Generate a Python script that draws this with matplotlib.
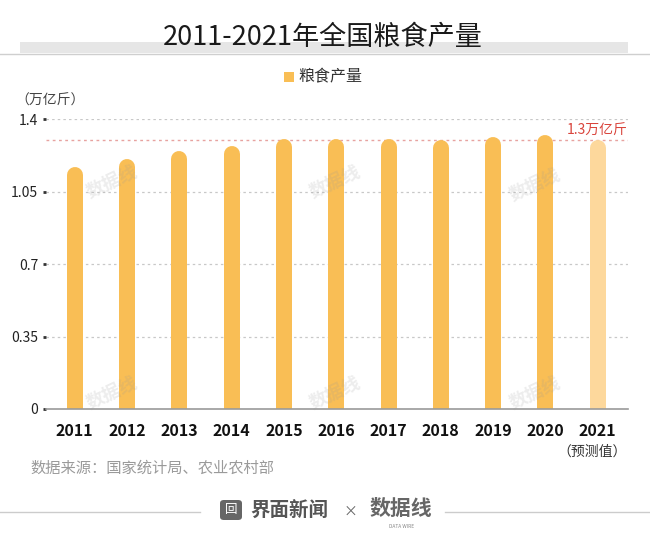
import matplotlib
matplotlib.use("Agg")
import matplotlib.pyplot as plt
from matplotlib.patches import Rectangle, FancyBboxPatch
from matplotlib.lines import Line2D

plt.rcParams['font.family'] = ['Noto Sans CJK SC', 'DejaVu Sans']

years = ['2011', '2012', '2013', '2014', '2015', '2016', '2017', '2018', '2019', '2020', '2021']
values = [1.17, 1.21, 1.245, 1.27, 1.305, 1.305, 1.305, 1.30, 1.315, 1.325, 1.30]
forecast = [False] * 10 + [True]
yticks = [0, 0.35, 0.7, 1.05, 1.4]
ytick_labels = ['0', '0.35', '0.7', '1.05', '1.4']
ref_value = 1.3
ref_label = '1.3万亿斤'
title = '2011-2021年全国粮食产量'
legend_label = '粮食产量'
unit_label = '（万亿斤）'
forecast_note = '（预测值）'
source = '数据来源：国家统计局、农业农村部'
watermark = '数据线'

W, H = 650, 542
DPI = 100
fig = plt.figure(figsize=(W / DPI, H / DPI), dpi=DPI)
fig.patch.set_facecolor('white')

def fx(px):
    return px / W

def fy(py):
    return 1 - py / H

# Title band
fig.patches.append(Rectangle((fx(20), fy(53)), fx(608), 11 / H, transform=fig.transFigure,
                             facecolor='#e6e6e6', edgecolor='none', zorder=0))
fig.lines.append(Line2D([0, 1], [fy(53.5), fy(53.5)], transform=fig.transFigure,
                        color='#cfcfcf', lw=1))
fig.text(fx(323), fy(37), title, ha='center', va='center', fontsize=19.5, color='#1a1a1a')

# Legend
fig.patches.append(Rectangle((fx(284), fy(82)), 10 / W, 10 / H, transform=fig.transFigure,
                             facecolor='#F9BE55', edgecolor='none'))
fig.text(fx(298), fy(77), legend_label, ha='left', va='center', fontsize=11.5, color='#333333')

fig.text(fx(15), fy(101), unit_label, ha='left', va='center', fontsize=10, color='#444444')

# Watermarks
for wx, wy in [(112, 182), (335, 182), (535, 185), (112, 393), (335, 393), (535, 393)]:
    fig.text(fx(wx), fy(wy), watermark, ha='center', va='center', fontsize=13,
             color='#999999', alpha=0.18, rotation=25, fontweight='bold', zorder=0.5)

# Axes
left_px, right_px, top_px, bottom_px = 46, 628, 119.3, 409
ax = fig.add_axes([fx(left_px), fy(bottom_px), (right_px - left_px) / W, (bottom_px - top_px) / H])
ax.patch.set_alpha(0)
ymin, ymax = 0, 1.4
ax.set_ylim(ymin, ymax)
ax.set_xlim(-0.55, 10.58)

px_per_unit = (bottom_px - top_px) / (ymax - ymin)
bar_px = 16
r_data = (bar_px / 2) / px_per_unit
lw_pt = bar_px * 72 / DPI

x = list(range(len(years)))
for xi, v, f in zip(x, values, forecast):
    color = '#FDD89C' if f else '#F9BE55'
    ax.plot([xi, xi], [-0.2, v - r_data], color=color, lw=lw_pt,
            solid_capstyle='round', zorder=3, clip_on=True)

for t in yticks[1:]:
    ax.axhline(t, color='#c8c8c8', lw=0.9, ls=(0, (2, 2.5)), zorder=1)
ax.axhline(ref_value, color='#e7a3a0', lw=1.0, ls=(0, (2, 2.5)), zorder=2)
ax.text(10.58, ref_value + 0.012, ref_label, ha='right', va='bottom', fontsize=10,
        color='#d9443c', zorder=5)

for s in ['top', 'right', 'left']:
    ax.spines[s].set_visible(False)
ax.spines['bottom'].set_color('#9a9a9a')
ax.spines['bottom'].set_linewidth(1.2)
ax.spines['bottom'].set_zorder(4)

ax.set_yticks(yticks)
ax.set_yticklabels(ytick_labels)
ax.tick_params(axis='y', length=2.5, width=2, color='#333333', labelsize=10,
               labelcolor='#222222', pad=3)
ax.set_xticks(x)
ax.set_xticklabels(years)
ax.tick_params(axis='x', length=0, labelsize=11.5, labelcolor='#111111', pad=10)
for lab in ax.get_xticklabels():
    lab.set_fontweight('bold')

fig.text(fx(592), fy(452), forecast_note, ha='center', va='center', fontsize=10, color='#333333')
fig.text(fx(30), fy(468), source, ha='left', va='center', fontsize=11, color='#9a9a9a')

# Footer
fig.lines.append(Line2D([0, fx(200)], [fy(512), fy(512)], transform=fig.transFigure, color='#cccccc', lw=1))
fig.lines.append(Line2D([fx(445), 1], [fy(512), fy(512)], transform=fig.transFigure, color='#cccccc', lw=1))
fig.patches.append(FancyBboxPatch((fx(220), fy(520)), 22 / W, 20 / H, transform=fig.transFigure,
                                  boxstyle='round,pad=0,rounding_size=0.006',
                                  facecolor='#666666', edgecolor='none'))
fig.text(fx(231), fy(510), '回', ha='center', va='center', fontsize=9, color='white')
fig.text(fx(250), fy(511), '界面新闻', ha='left', va='center', fontsize=14, color='#555555', fontweight='bold')
fig.text(fx(350), fy(512), '×', ha='center', va='center', fontsize=10, color='#666666')
fig.text(fx(401), fy(508), '数据线', ha='center', va='center', fontsize=15, color='#666666',
         fontweight='bold', style='italic')
fig.text(fx(402), fy(526), 'DATA WIRE', ha='center', va='center', fontsize=3.5, color='#888888')

fig.savefig('out.png', dpi=DPI)
